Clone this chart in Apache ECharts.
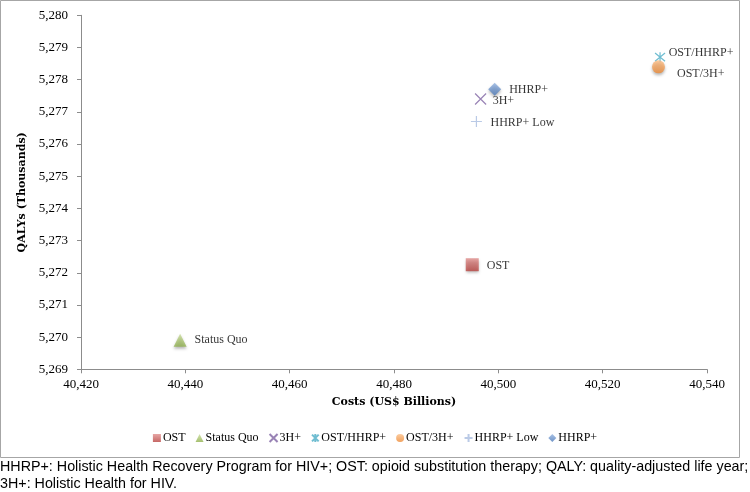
<!DOCTYPE html>
<html>
<head>
<meta charset="utf-8">
<script src="https://cdn.jsdelivr.net/npm/echarts@6/dist/echarts.min.js"></script>
<style>
html,body{margin:0;padding:0;background:#fff;}
#c{width:750px;height:492px;}
</style>
</head>
<body>
<div id="c"></div>
<script>
// Data
var seriesNames = ['OST', 'Status Quo', '3H+', 'OST/HHRP+', 'OST/3H+', 'HHRP+ Low', 'HHRP+'];
var costs = [40495.0, 40439.0, 40496.6, 40531.0, 40530.7, 40495.8, 40499.3];
var qalys = [5272.25, 5269.9, 5277.4, 5278.7, 5278.4, 5276.7, 5277.7];
var xTicks = [40420, 40440, 40460, 40480, 40500, 40520, 40540];
var yTicks = [5269, 5270, 5271, 5272, 5273, 5274, 5275, 5276, 5277, 5278, 5279, 5280];

var serif = "'Liberation Serif', 'DejaVu Serif', serif";
var wideSerif = "'DejaVu Serif', 'Liberation Serif', serif";
var colors = ['#c0504d', '#9bbb59', '#8064a2', '#4bacc6', '#f79646', '#a9bde0', '#4f81bd'];

var symbolDefs = [
  {symbol: 'rect', size: 13, filled: true, grad: ['#e0908e', '#b8423f']},
  {symbol: 'triangle', size: 13, filled: true, grad: ['#c9dc9a', '#8fb04c']},
  {symbol: 'path://M0,0L10,10M10,0L0,10', size: 11, filled: false},
  {symbol: 'path://M0,0L10,10M10,0L0,10M5,-1L5,11', size: 10, filled: false},
  {symbol: 'circle', size: 13, filled: true, grad: ['#fbbf88', '#ee8a35']},
  {symbol: 'path://M5,0L5,10M0,5L10,5', size: 11, filled: false},
  {symbol: 'diamond', size: 13, filled: true, grad: ['#94b3e0', '#4a78b8']}
];

var labelCfg = [
  {offset: [0, 1], distance: 8},
  {offset: [0, 0], distance: 8},
  {offset: [0, 2], distance: 6},
  {offset: [0, -4], distance: 3},
  {offset: [2, 7], distance: 10},
  {offset: [0, 1], distance: 8},
  {offset: [0, 1], distance: 8}
];

function fmt(v) { return String(v).replace(/\B(?=(\d{3})+(?!\d))/g, ','); }

var series = seriesNames.map(function (n, i) {
  var d = symbolDefs[i];
  var itemStyle;
  if (d.filled) {
    itemStyle = {
      color: new echarts.graphic.LinearGradient(0, 0, 0, 1, [
        {offset: 0, color: d.grad[0]}, {offset: 1, color: d.grad[1]}
      ]),
      shadowColor: 'rgba(0,0,0,0.35)', shadowBlur: 3, shadowOffsetY: 2
    };
  } else {
    itemStyle = {color: 'transparent', borderColor: colors[i], borderWidth: 1.2};
  }
  return {
    name: n,
    type: 'scatter',
    symbol: d.symbol,
    symbolSize: d.size,
    itemStyle: itemStyle,
    data: [[costs[i], qalys[i]]],
    label: {
      show: true,
      position: 'right',
      distance: labelCfg[i].distance,
      offset: labelCfg[i].offset,
      formatter: n,
      color: '#000',
      fontFamily: serif,
      fontSize: 12
    },
    emphasis: {disabled: true}
  };
});

var chart = echarts.init(document.getElementById('c'), null, {renderer: 'canvas'});
chart.setOption({
  animation: false,
  color: colors,
  grid: {left: 81, right: 43, top: 15.3, bottom: 122.7, containLabel: false},
  xAxis: {
    type: 'value',
    min: xTicks[0], max: xTicks[xTicks.length - 1], interval: 20,
    name: 'Costs (US$ Billions)', nameLocation: 'middle', nameGap: 27,
    nameTextStyle: {fontFamily: wideSerif, fontWeight: 'bold', fontSize: 11, color: '#000'},
    axisLine: {lineStyle: {color: '#8c8c8c'}},
    axisTick: {show: true, length: 4, lineStyle: {color: '#8c8c8c'}},
    axisLabel: {fontFamily: serif, fontSize: 13, color: '#000', margin: 9, formatter: fmt},
    splitLine: {show: false}
  },
  yAxis: {
    type: 'value',
    min: yTicks[0], max: yTicks[yTicks.length - 1], interval: 1,
    name: 'QALYs (Thousands)', nameLocation: 'middle', nameGap: 52, nameRotate: 90,
    nameTextStyle: {fontFamily: wideSerif, fontWeight: 'bold', fontSize: 11, color: '#000'},
    axisLine: {show: true, lineStyle: {color: '#8c8c8c'}},
    axisTick: {show: true, length: 4, lineStyle: {color: '#8c8c8c'}},
    axisLabel: {fontFamily: serif, fontSize: 13, color: '#000', margin: 13, formatter: fmt},
    splitLine: {show: false}
  },
  legend: {
    top: 427,
    left: 'center',
    itemWidth: 8, itemHeight: 8, itemGap: 10,
    textStyle: {fontFamily: serif, fontSize: 12, color: '#000', padding: [0, 0, 0, -3]},
    data: seriesNames
  },
  graphic: [
    {type: 'rect', shape: {x: 0.5, y: 0.5, width: 739, height: 457},
     style: {fill: 'none', stroke: '#a6a6a6', lineWidth: 1}, silent: true, z: -1},
    {type: 'text', left: 0, top: 460,
     style: {text: 'HHRP+: Holistic Health Recovery Program for HIV+; OST: opioid substitution therapy; QALY: quality-adjusted life year;',
             font: "14.3px 'Liberation Sans', Arial, sans-serif", fill: '#000'}},
    {type: 'text', left: 0, top: 477,
     style: {text: '3H+: Holistic Health for HIV.',
             font: "14.3px 'Liberation Sans', Arial, sans-serif", fill: '#000'}}
  ],
  series: series
});
</script>
</body>
</html>
